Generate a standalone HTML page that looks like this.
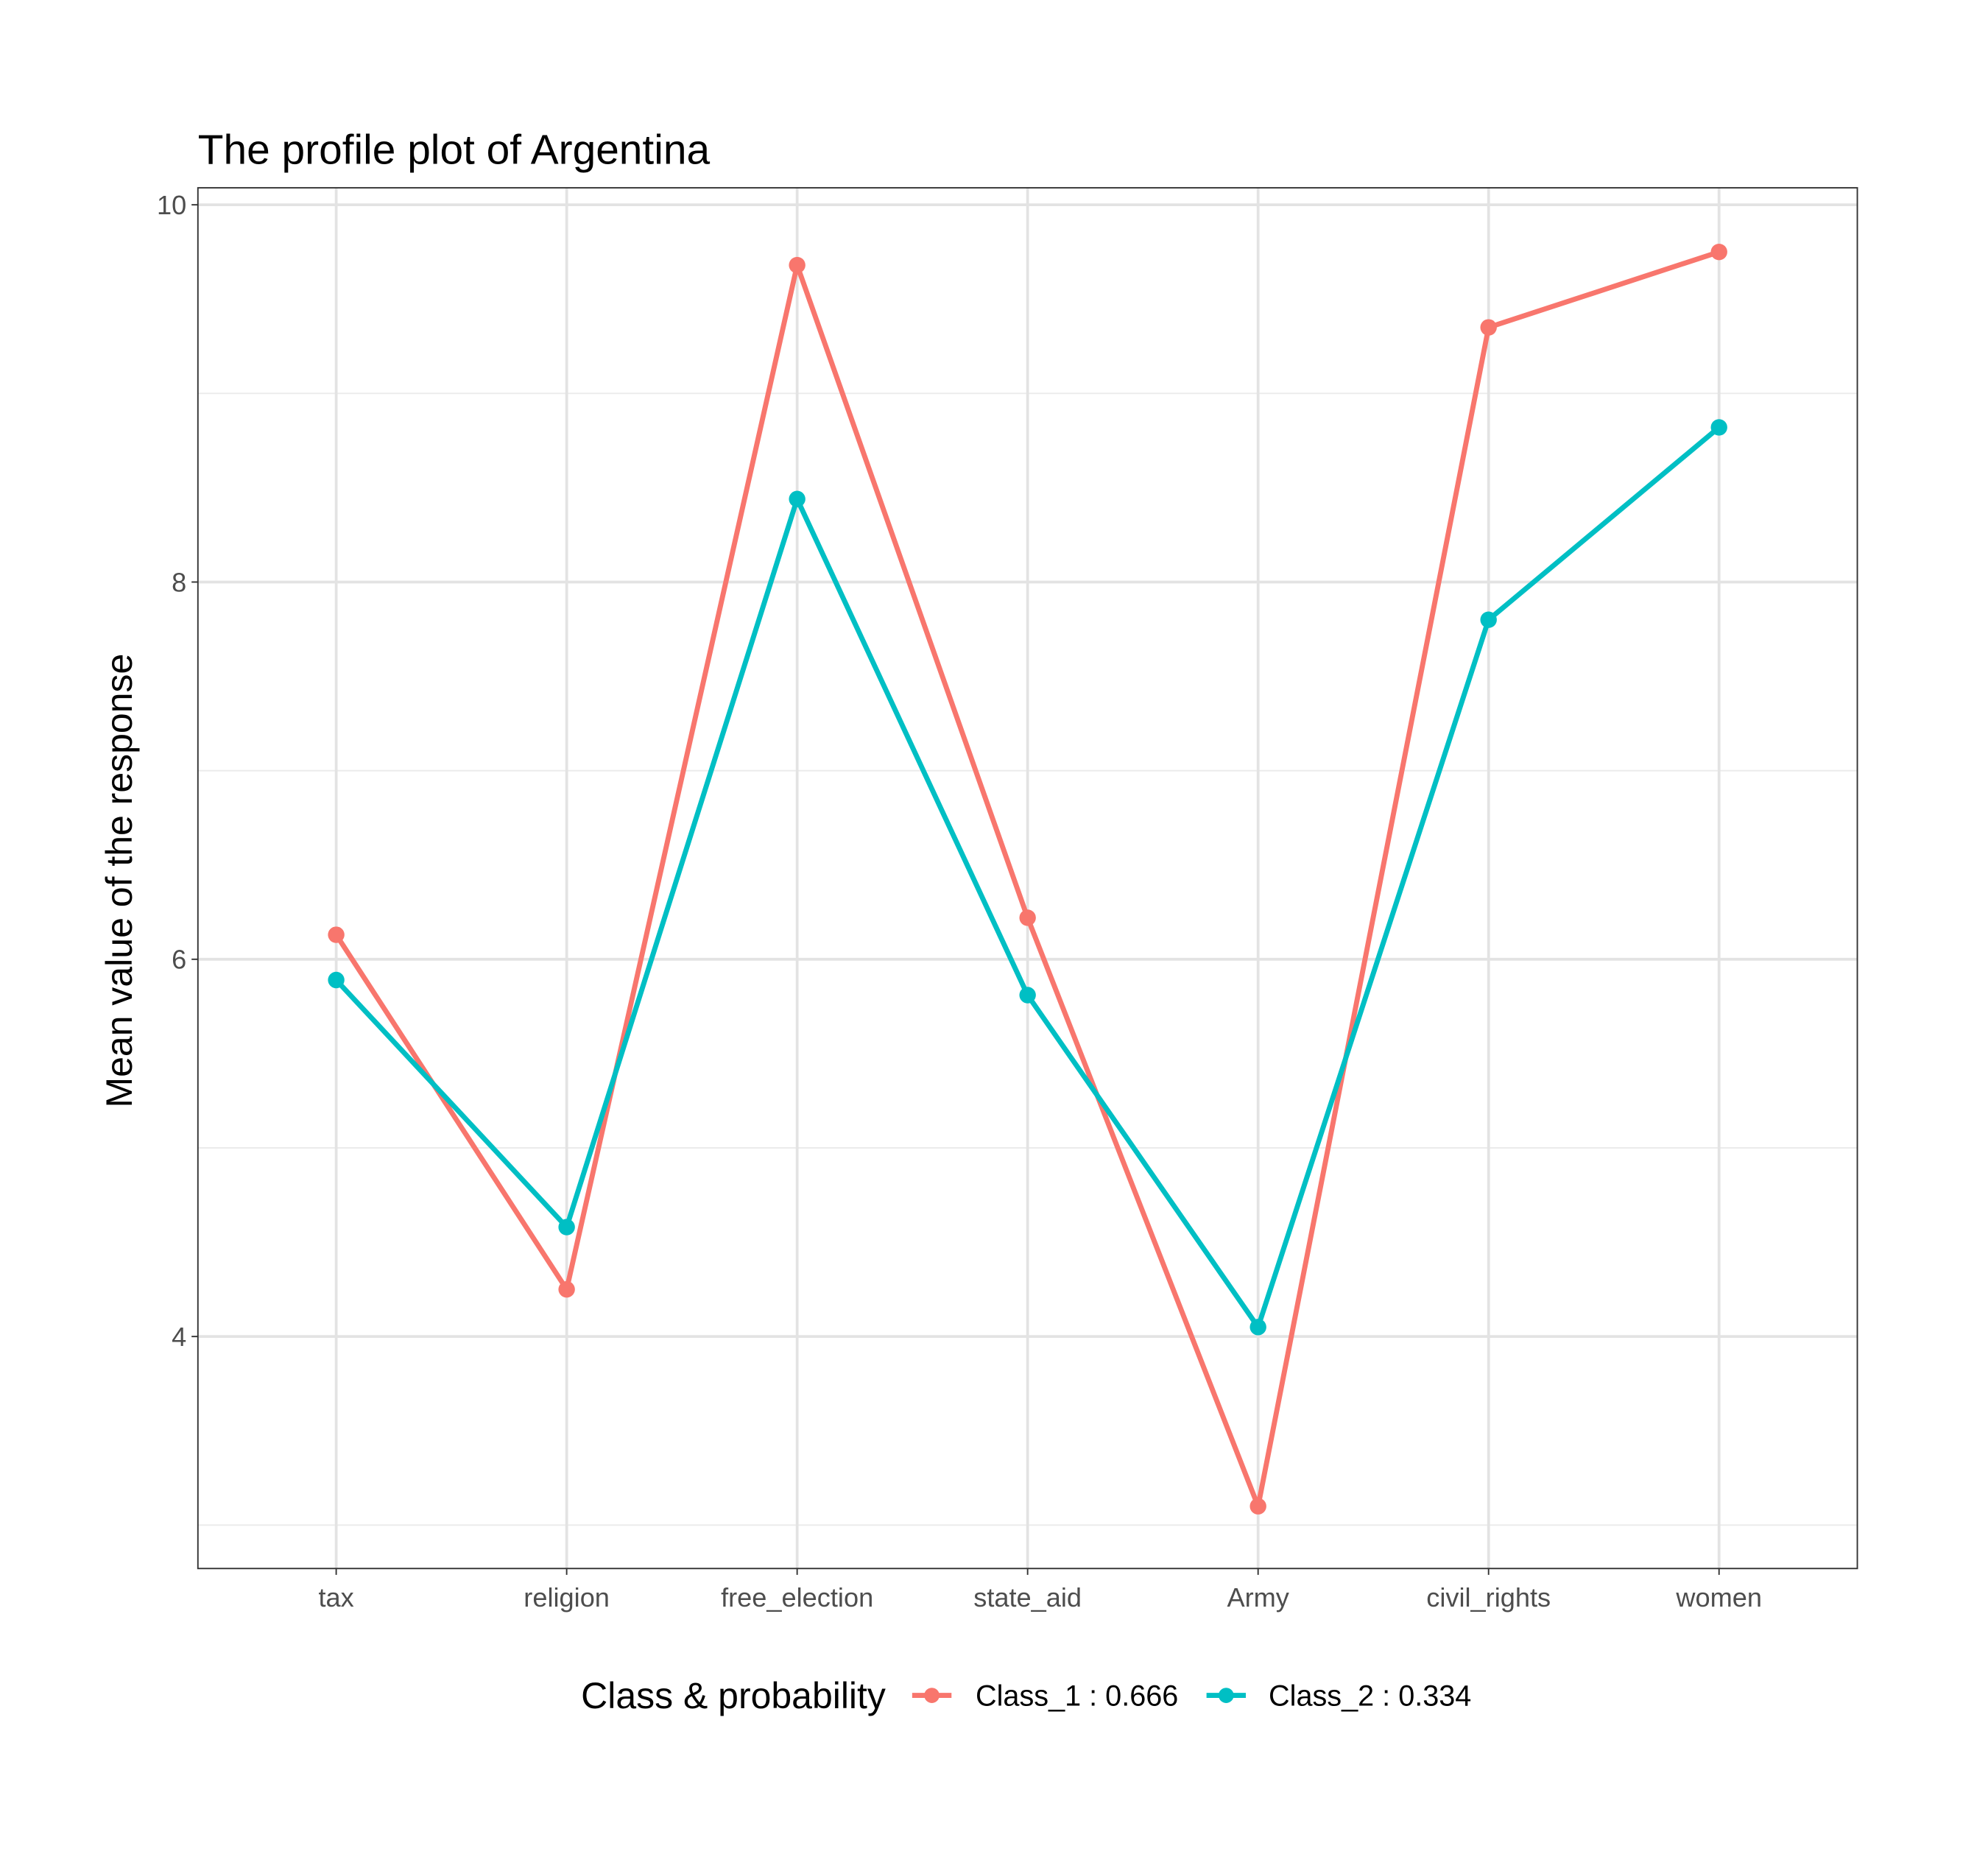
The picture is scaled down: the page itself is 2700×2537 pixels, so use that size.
<!DOCTYPE html>
<html><head><meta charset="utf-8">
<style>
html,body{margin:0;padding:0;background:#fff;}
svg{display:block;font-family:"Liberation Sans",Arial,sans-serif;}
</style></head>
<body>
<svg id="chart" width="2700" height="2537" viewBox="0 0 1567 1472" preserveAspectRatio="none" xmlns="http://www.w3.org/2000/svg">
<rect x="0" y="0" width="1567" height="1472" fill="#fff"/>
<text x="156" y="129" font-size="33" fill="#000">The profile plot of Argentina</text>
<g id="grid"></g>
<g id="series"></g>
<rect x="156" y="148" width="1308" height="1088" fill="none" stroke="#333" stroke-width="1.1"/>
<g id="axes"></g>
<text transform="translate(104,694) rotate(-90)" text-anchor="middle" font-size="29" fill="#000">Mean value of the response</text>
<g>
<text x="458" y="1346" font-size="29" fill="#000">Class &amp; probability</text>
<g>
<line x1="719" y1="1336" x2="750" y2="1336" stroke="#F8766D" stroke-width="4"/>
<circle cx="734.5" cy="1336" r="6" fill="#F8766D"/>
<text x="769" y="1344" font-size="23" fill="#000">Class_1 : 0.666</text>
</g>
<g>
<line x1="951" y1="1336" x2="982" y2="1336" stroke="#00BFC4" stroke-width="4"/>
<circle cx="966.5" cy="1336" r="6" fill="#00BFC4"/>
<text x="1000" y="1344" font-size="23" fill="#000">Class_2 : 0.334</text>
</g>
</g>
</svg>
<script>
const categories = ["tax","religion","free_election","state_aid","Army","civil_rights","women"];
const class1Values = [6.13, 4.25, 9.68, 6.22, 3.10, 9.35, 9.75];
const class2Values = [5.89, 4.58, 8.44, 5.81, 4.05, 7.80, 8.82];
const yMajorTicks = [4, 6, 8, 10];
const yMinorTicks = [3, 5, 7, 9];
const yMin = 2.77, yMax = 10.09;

const NS = "http://www.w3.org/2000/svg";
const pL = 156, pR = 1464, pT = 148, pB = 1236;
function yScale(v){ return pB - (v - yMin) / (yMax - yMin) * (pB - pT); }
function xScale(i){ const step = (pR - pL) / (categories.length - 1 + 1.2); return pL + step * 0.6 + i * step; }
function mk(tag, attrs, parent){ const e = document.createElementNS(NS, tag); for (const k in attrs) e.setAttribute(k, attrs[k]); parent.appendChild(e); return e; }

const grid = document.getElementById("grid");
const axes = document.getElementById("axes");
yMinorTicks.forEach(v => {
  const l = mk("line", {x1:pL, x2:pR, y1:yScale(v), y2:yScale(v), stroke:"#ebebeb", "stroke-width":1.1}, grid);
  
  
});
yMajorTicks.forEach(v => {
  const l = mk("line", {x1:pL, x2:pR, y1:yScale(v), y2:yScale(v), stroke:"#e3e3e3", "stroke-width":2.2}, grid);
  
  
  const t = mk("line", {x1:pL-5, x2:pL, y1:yScale(v), y2:yScale(v), stroke:"#333", "stroke-width":1.1}, axes);
  
  
  const tx = mk("text", {x:pL-9, y:yScale(v)+7.5, "text-anchor":"end", "font-size":"21", fill:"#4d4d4d"}, axes);
  tx.textContent = v;
  
  
});
categories.forEach((c, i) => {
  const x = xScale(i);
  const l = mk("line", {x1:x, x2:x, y1:pT, y2:pB, stroke:"#e3e3e3", "stroke-width":2.2}, grid);
  
  
  const t = mk("line", {x1:x, x2:x, y1:pB, y2:pB+5, stroke:"#333", "stroke-width":1.1}, axes);
  
  
  const tx = mk("text", {x:x, y:pB+30, "text-anchor":"middle", "font-size":"21", fill:"#4d4d4d"}, axes);
  tx.textContent = c;
  
  
});

const series = document.getElementById("series");
[[class1Values, "#F8766D", "class-1"], [class2Values, "#00BFC4", "class-2"]].forEach(([vals, col, nm]) => {
  const pts = vals.map((v, i) => xScale(i) + "," + yScale(v)).join(" ");
  const pl = mk("polyline", {points:pts, fill:"none", stroke:col, "stroke-width":4, "stroke-linejoin":"round"}, series);
  
  
  vals.forEach((v, i) => {
    const c = mk("circle", {cx:xScale(i), cy:yScale(v), r:6.5, fill:col}, series);
    
    
  });
});
</script>
</body></html>
